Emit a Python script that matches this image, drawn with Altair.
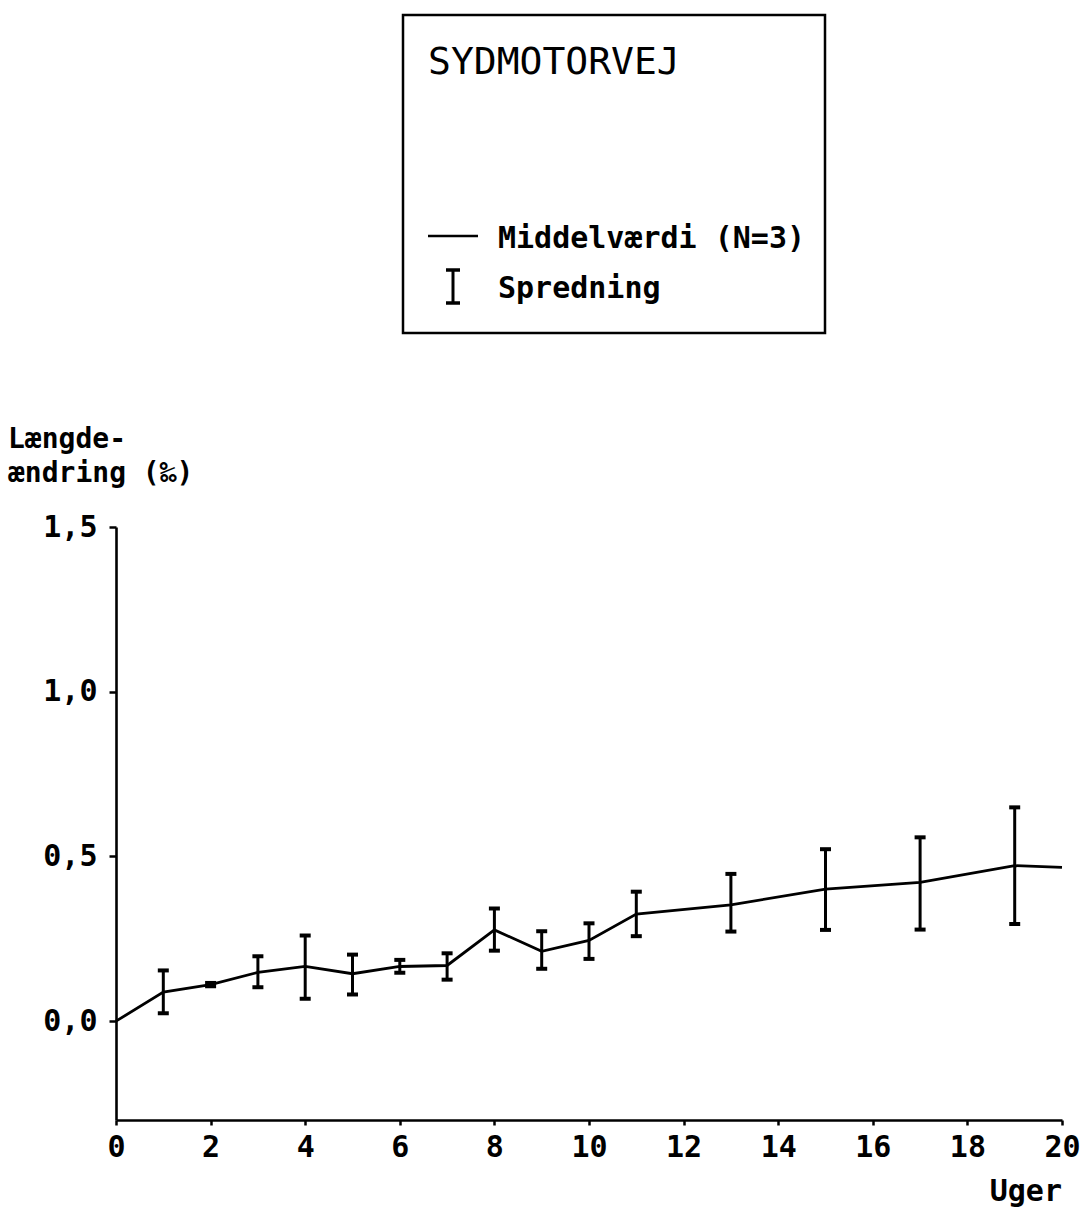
import altair as alt
import pandas as pd

# Mean length change (per mille) for the Sydmotorvej specimens, by week
weeks = [0, 1, 2, 3, 4, 5, 6, 7, 8, 9, 10, 11, 13, 15, 17, 19, 20]
mean_change = [0.0, 0.088, 0.111, 0.148, 0.166, 0.144, 0.166, 0.169, 0.277,
               0.212, 0.245, 0.325, 0.353, 0.401, 0.421, 0.472, 0.467]

# Spread (low / high) around the mean
spread_weeks = [1, 2, 3, 4, 5, 6, 7, 8, 9, 10, 11, 13, 15, 17, 19]
spread_low = [0.024, 0.106, 0.103, 0.068, 0.081, 0.147, 0.126, 0.214,
              0.159, 0.189, 0.258, 0.272, 0.277, 0.278, 0.295]
spread_high = [0.154, 0.116, 0.197, 0.260, 0.202, 0.186, 0.206, 0.342,
               0.273, 0.297, 0.393, 0.447, 0.522, 0.558, 0.649]

x_ticks = list(range(0, 21, 2))
y_ticks = [0.0, 0.5, 1.0, 1.5]

title_text = "SYDMOTORVEJ"
legend_mean = "Middelværdi (N=3)"
legend_spread = "Spredning"
y_title_lines = ["Længde-", "ændring (‰)"]
x_title = "Uger"

MONO = "DejaVu Sans Mono"
W, H = 946, 593

mean_df = pd.DataFrame({"uge": weeks, "middel": mean_change})
spread_df = pd.DataFrame({"uge": spread_weeks, "lav": spread_low, "hoej": spread_high})

x_scale = alt.Scale(domain=[0, 20], nice=False, zero=False)
y_scale = alt.Scale(domain=[-0.3, 1.5], nice=False, zero=False)

x_enc = alt.X(
    "uge:Q", scale=x_scale,
    axis=alt.Axis(values=x_ticks, title=None, tickSize=5, labelPadding=7,
                  labelFlush=False, labelOverlap=False),
)

line = alt.Chart(mean_df).mark_line(color="black", strokeWidth=2.8).encode(
    x=x_enc,
    y=alt.Y(
        "middel:Q", scale=y_scale,
        axis=alt.Axis(values=y_ticks, title=None, tickSize=7, labelPadding=12,
                      labelExpr="replace(format(datum.value, '.1f'), '.', ',')"),
    ),
)

bars = alt.Chart(spread_df).mark_rule(color="black", strokeWidth=3).encode(
    x=alt.X("uge:Q", scale=x_scale),
    y=alt.Y("lav:Q", scale=y_scale),
    y2="hoej:Q",
)

caps = alt.Chart(spread_df).transform_fold(["lav", "hoej"], as_=["ende", "vaerdi"]).mark_tick(
    color="black", orient="horizontal", size=11, thickness=4, opacity=1
).encode(
    x=alt.X("uge:Q", scale=x_scale),
    y=alt.Y("vaerdi:Q", scale=y_scale),
)

one = pd.DataFrame({"k": [0]})

# Legend box above the plot
box = alt.Chart(one).mark_rect(fillOpacity=0, stroke="black", strokeWidth=2.5).encode(
    x=alt.value(287), x2=alt.value(709), y=alt.value(-512), y2=alt.value(-194)
)

def label(text, x, y, size=30, weight="bold", align="left"):
    return alt.Chart(pd.DataFrame({"t": [text]})).mark_text(
        font=MONO, fontSize=size, fontWeight=weight, align=align,
        baseline="alphabetic", color="black",
    ).encode(x=alt.value(x), y=alt.value(y), text="t:N")

title_mark = label(title_text, 312, -453, size=38, weight="normal")
mean_sym = alt.Chart(one).mark_rule(color="black", strokeWidth=2.5).encode(
    x=alt.value(312), x2=alt.value(362), y=alt.value(-291)
)
mean_lbl = label(legend_mean, 382, -279)
spread_sym = alt.Chart(one).mark_rule(color="black", strokeWidth=3).encode(
    x=alt.value(337), y=alt.value(-257), y2=alt.value(-224)
)
spread_cap_top = alt.Chart(one).mark_rule(color="black", strokeWidth=3.5).encode(
    x=alt.value(330), x2=alt.value(344), y=alt.value(-257)
)
spread_cap_bot = alt.Chart(one).mark_rule(color="black", strokeWidth=3.5).encode(
    x=alt.value(330), x2=alt.value(344), y=alt.value(-224)
)
spread_lbl = label(legend_spread, 382, -229)

# Two-line y-axis caption in the top-left corner of the plot
y_title1 = label(y_title_lines[0], -108, -79, size=28)
y_title2 = label(y_title_lines[1], -108, -45, size=28)
x_title_mark = label(x_title, W, 674, align="right")

chart = alt.layer(
    line, bars, caps,
    box, title_mark, mean_sym, mean_lbl, spread_sym, spread_cap_top, spread_cap_bot, spread_lbl,
    y_title1, y_title2, x_title_mark,
).properties(
    width=W, height=H,
    autosize=alt.AutoSizeParams(type="none"),
    padding={"left": 116, "top": 527, "right": 19, "bottom": 98},
    background="white",
).configure_view(
    stroke=None
).configure_axis(
    grid=False,
    domainColor="black", domainWidth=2.6,
    tickColor="black", tickWidth=2.5,
    labelFont=MONO, labelFontSize=30, labelFontWeight="bold", labelColor="black",
)

chart.save("out.html", embed_options={"renderer": "svg", "actions": False})
